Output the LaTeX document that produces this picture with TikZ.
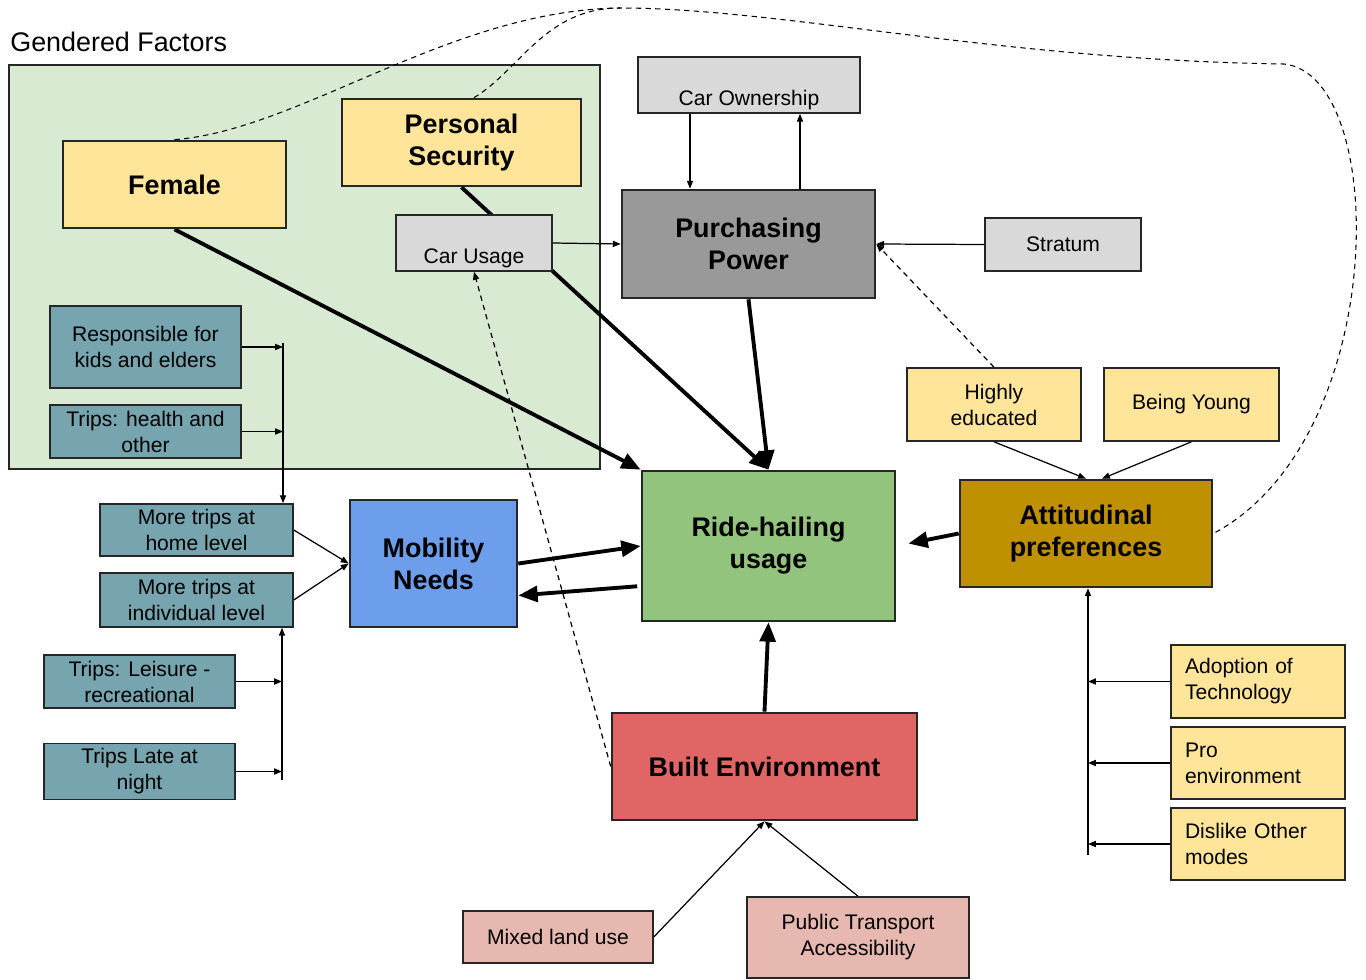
\documentclass[tikz,border=0pt]{standalone}
\usepackage{fontspec}
\setmainfont{Liberation Sans}
\usepackage{xcolor}
\usetikzlibrary{positioning, arrows.meta, fit, backgrounds}

\definecolor{gfGreen}{HTML}{D9EAD3}
\definecolor{lightYellow}{HTML}{FFE599}
\definecolor{lightGray}{HTML}{D9D9D9}
\definecolor{midGray}{HTML}{999999}
\definecolor{tripTeal}{HTML}{76A5AF}
\definecolor{needBlue}{HTML}{6D9EEB}
\definecolor{rideGreen}{HTML}{93C47D}
\definecolor{attYellow}{HTML}{BF9000}
\definecolor{builtRed}{HTML}{E06666}
\definecolor{urbanPink}{HTML}{E6B8AF}

\tikzset{
  factor/.style={rectangle, draw=black!85, line width=0.9pt, inner sep=3pt,
                 align=center, font=\fontsize{12}{14.8}\selectfont},
  keyfactor/.style={rectangle, draw=black!85, line width=1.5pt, inner sep=3pt,
                    align=center, font=\fontsize{15.3}{18.2}\selectfont\bfseries},
  lowtext/.style={text height=25pt, text depth=2pt, inner ysep=1pt},
  leftfactor/.style={factor, align=left, text width=2.92cm, inner xsep=0.28cm},
  gframe/.style={rectangle, draw=black!85, line width=1.5pt, fill=gfGreen, inner sep=0pt},
  arr/.style={-{Triangle[length=11pt, width=9pt]}, line width=2.2pt},
  thinarr/.style={-{Triangle[length=4.5pt, width=3.5pt]}, line width=0.7pt},
  link/.style={line width=0.6pt, dash pattern=on 3pt off 2.5pt},
}

\begin{document}
\begin{tikzpicture}
  \useasboundingbox (0, 0) rectangle (27.32, -19.6);

  %% === Gendered factors group ===
  \node[anchor=west, inner sep=0pt, font=\fontsize{15.3}{18}\selectfont] at (0.2, -0.84) (gfTitle) {Gendered Factors};
  \coordinate (gfNW) at (0.18, -1.3);
  \coordinate (gfSE) at (12.0, -9.38);

  \node[keyfactor, fill=lightYellow, minimum width=4.46cm, minimum height=1.74cm] at (3.49, -3.69) (female) {Female};
  \node[keyfactor, fill=lightYellow, minimum width=4.78cm, minimum height=1.74cm] at (9.23, -2.85) (security) {Personal\\Security};
  \node[factor, lowtext, fill=lightGray, minimum width=3.12cm, minimum height=1.12cm] at (9.48, -4.86) (carUse) {Car Usage};
  \node[factor, fill=tripTeal, minimum width=3.82cm, minimum height=1.64cm] at (2.91, -6.94) (kids) {Responsible for\\kids and elders};
  \node[factor, fill=tripTeal, minimum width=3.82cm, minimum height=1.06cm] at (2.91, -8.63) (health) {Trips: health and\\other};

  % Top row: purchasing power and its inputs
  \node[factor, lowtext, fill=lightGray, minimum width=4.44cm, minimum height=1.12cm] at (14.98, -1.7) (carOwn) {Car Ownership};
  \node[keyfactor, fill=midGray, minimum width=5.06cm, minimum height=2.16cm] at (14.97, -4.88) (power) {Purchasing\\Power};
  \node[factor, fill=lightGray, minimum width=3.12cm, minimum height=1.06cm] at (21.26, -4.89) (stratum) {Stratum};

  % Left column: trip needs
  \node[factor, fill=tripTeal, minimum width=3.86cm, minimum height=1.04cm] at (3.93, -10.6) (homeTrips) {More trips at\\home level};
  \node[factor, fill=tripTeal, minimum width=3.86cm, minimum height=1.08cm] at (3.93, -12.0) (indivTrips) {More trips at\\individual level};
  \node[factor, fill=tripTeal, minimum width=3.82cm, minimum height=1.06cm] at (2.79, -13.63) (leisure) {Trips: Leisure -\\recreational};
  \node[factor, fill=tripTeal, minimum width=3.82cm, minimum height=1.02cm] at (2.79, -15.43) (night) {Trips Late at\\night};
  \node[keyfactor, fill=needBlue, minimum width=3.34cm, minimum height=2.54cm] at (8.67, -11.27) (mobility) {Mobility\\Needs};

  % Centre: ride-hailing usage
  \node[keyfactor, fill=rideGreen, minimum width=5.06cm, minimum height=3.0cm] at (15.37, -10.92) (ride) {Ride-hailing\\usage};

  % Right: attitudes
  \node[factor, fill=lightYellow, minimum width=3.48cm, minimum height=1.46cm] at (19.88, -8.09) (educated) {Highly\\educated};
  \node[factor, fill=lightYellow, minimum width=3.5cm, minimum height=1.46cm] at (23.83, -8.09) (young) {Being Young};
  \node[keyfactor, fill=attYellow, minimum width=5.04cm, minimum height=2.14cm] at (21.72, -10.67) (attitude) {Attitudinal\\preferences};
  \node[leftfactor, fill=lightYellow, minimum height=1.46cm] at (25.16, -13.63) (tech) {Adoption of\\Technology};
  \node[leftfactor, fill=lightYellow, minimum height=1.44cm] at (25.16, -15.26) (proEnv) {Pro\\environment};
  \node[leftfactor, fill=lightYellow, minimum height=1.44cm] at (25.16, -16.88) (dislike) {Dislike Other\\modes};

  % Bottom: built environment
  \node[keyfactor, fill=builtRed, minimum width=6.1cm, minimum height=2.14cm] at (15.29, -15.33) (built) {Built Environment};
  \node[factor, fill=urbanPink, minimum width=3.8cm, minimum height=1.04cm] at (11.16, -18.74) (landUse) {Mixed land use};
  \node[factor, fill=urbanPink, minimum width=4.44cm, minimum height=1.62cm] at (17.16, -18.75) (transit) {Public Transport\\Accessibility};

  % Bus lines
  \coordinate (busTop) at (5.66, -6.86);
  \coordinate (busBot) at (5.64, -15.6);
  \coordinate (attBus) at (21.76, -17.1);
  \coordinate (topJoin) at (12.4, -0.16);

  \begin{scope}[on background layer]
    \node[gframe, fit=(gfNW)(gfSE)] (gframe) {};

    % Main effects on ride-hailing
    \draw[arr] (female.south) -- (ride.north west);
    \draw[arr] (security.south) -- (ride.north);
    \draw[arr] (power.south) -- (ride.north);
    \draw[arr] (mobility.east) -- (ride.west);
    \draw[arr, shorten <=2pt] ([yshift=-0.8cm]ride.west) -- ([yshift=-0.64cm]mobility.east);
    \draw[arr, shorten >=7pt] (attitude.west) -- (ride.east);
    \draw[arr] (built.north) -- (ride.south);

    % Purchasing power inputs
    \draw[thinarr] ([xshift=-1.18cm]carOwn.south) -- ([xshift=-1.18cm]carOwn.south |- power.north);
    \draw[thinarr] ([xshift=1.03cm]power.north) -- ([xshift=1.03cm]power.north |- carOwn.south);
    \draw[thinarr] (carUse.east) -- (power.west);
    \draw[thinarr] (stratum.west) -- (power.east);

    % Trip needs
    \draw[thinarr] (kids.east) -- (kids.east -| busTop);
    \draw[thinarr] (health.east) -- (health.east -| busTop);
    \draw[thinarr] (busTop) -- (busTop |- homeTrips.north);
    \draw[thinarr] (leisure.east) -- (leisure.east -| busBot);
    \draw[thinarr] (night.east) -- (night.east -| busBot);
    \draw[thinarr] (busBot) -- (busBot |- indivTrips.south);
    \draw[thinarr] (homeTrips.east) -- (mobility.west);
    \draw[thinarr] (indivTrips.east) -- (mobility.west);

    % Attitudes
    \draw[thinarr] (educated.south) -- (attitude.north);
    \draw[thinarr] (young.south) -- ([xshift=0.32cm]attitude.north);
    \draw[thinarr] (tech.west) -- (tech.west -| attBus);
    \draw[thinarr] (proEnv.west) -- (proEnv.west -| attBus);
    \draw[thinarr] (dislike.west) -- (dislike.west -| attBus);
    \draw[thinarr] (attBus) -- (attBus |- attitude.south);

    % Built environment
    \draw[thinarr] (landUse.east) -- (built.south);
    \draw[thinarr] (transit.north) -- (built.south);

    % Dashed links
    \draw[link, thinarr] (built.west) -- (carUse.south);
    \draw[link, thinarr] (educated.north) -- (power.east);
    \draw[link] (female.north) .. controls (6.0, -2.6) and (9.0, -0.2) .. (topJoin)
      .. controls (15.6, -0.16) and (20.0, -1.2) .. (25.68, -1.28)
      .. controls (27.8, -1.5) and (27.8, -8.8) .. (attitude.east);
    \draw[link] ([xshift=0.25cm]security.north) .. controls (10.4, -1.4) and (10.9, -0.16) .. (topJoin);
  \end{scope}

\end{tikzpicture}
\end{document}
